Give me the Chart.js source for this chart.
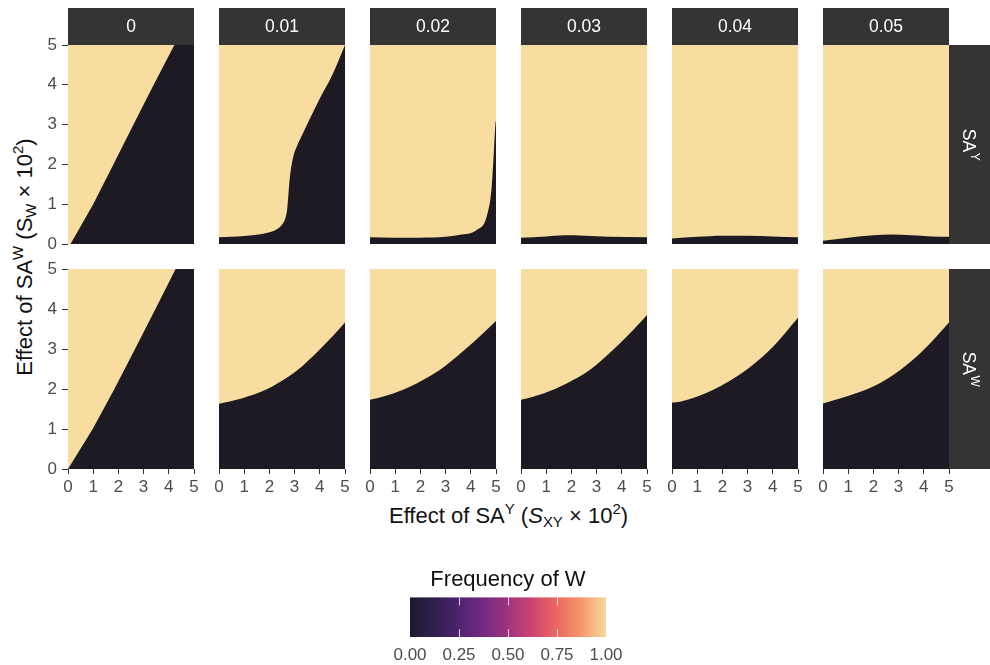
<!DOCTYPE html>
<html>
<head>
<meta charset="utf-8">
<script src="https://cdn.jsdelivr.net/npm/chart.js@4.4.1/dist/chart.umd.min.js"></script>
<style>
  html, body { margin: 0; padding: 0; background: #ffffff; }
  #fig { position: relative; width: 990px; height: 665px; overflow: hidden;
         font-family: "Liberation Sans", Arial, Helvetica, sans-serif; color: #111; }
  #fig canvas { position: absolute; }
  .title { position: absolute; white-space: nowrap; text-align: center; font-size: 22px; line-height: 22px; color: #111; }
  .title sup { font-size: 0.68em; vertical-align: 0.62em; line-height: 0; }
  .title sub { font-size: 0.68em; vertical-align: -0.25em; line-height: 0; }
  #xtitle { left: 68px; width: 881px; top: 505px; height: 22px; }
  #ytitle { width: 424px; height: 22px; left: -186.6px; top: 246px; transform: rotate(-90deg); }
</style>
</head>
<body>
<div id="fig">
  <div class="title" id="xtitle">Effect of SA<sup>Y</sup> (<i>S</i><sub>XY</sub> × 10<sup>2</sup>)</div>
  <div class="title" id="ytitle">Effect of SA<sup>W</sup> (S<sub>W</sub> × 10<sup>2</sup>)</div>
</div>
<script>
// ---- facets -------------------------------------------------------------
const facetCols = ['0', '0.01', '0.02', '0.03', '0.04', '0.05'];   // column strips
const facetRows = ['Y', 'W'];                                      // SA^Y / SA^W strips
const axisTicks = [0, 1, 2, 3, 4, 5];
const legendTicks = [0, 0.25, 0.5, 0.75, 1];

// ---- boundary between W-fixed (below) and W-lost (above): [S_XY, S_W] ----
// row SA^Y
const SAY_000 = [[0,0],[0.1,0],[1.0,1],[1.8,2],[2.6,3],[3.4,4],[4.22,5],[5,5]];
const SAY_001 = [[0,0.17],[1.0,0.2],[1.85,0.27],[2.3,0.37],[2.52,0.5],[2.63,0.64],[2.7,0.85],[2.75,1.2],[2.8,1.6],[2.87,1.95],[2.97,2.25],[3.1,2.47],[3.3,2.74],[3.57,3.1],[3.97,3.62],[4.5,4.25],[5,5]];
const SAY_002 = [[0,0.17],[1,0.16],[2,0.16],[3,0.18],[3.57,0.23],[4.23,0.35],[4.63,0.69],[4.83,1.44],[4.92,2.36],[4.98,3.03],[5,3.1]];
const SAY_003 = [[0,0.16],[1,0.19],[1.7,0.22],[2.5,0.21],[3.5,0.18],[5,0.17]];
const SAY_004 = [[0,0.14],[1,0.18],[2,0.21],[3,0.21],[4,0.19],[5,0.17]];
const SAY_005 = [[0,0.08],[1,0.16],[2,0.22],[2.7,0.24],[3.5,0.22],[4.3,0.19],[5,0.18]];
// row SA^W
const SAW_000 = [[0,0],[0.98,1],[1.84,2],[2.66,3],[3.47,4],[4.27,5],[5,5]];
const SAW_001 = [[0,1.63],[0.93,1.77],[1.85,1.98],[2.78,2.32],[3.17,2.5],[3.84,2.89],[4.5,3.31],[5,3.66]];
const SAW_002 = [[0,1.73],[0.92,1.89],[1.85,2.14],[2.78,2.48],[3.7,2.95],[4.5,3.4],[5,3.7]];
const SAW_003 = [[0,1.73],[0.89,1.89],[1.81,2.14],[2.74,2.48],[3.66,2.98],[4.46,3.48],[5,3.85]];
const SAW_004 = [[0,1.66],[0.32,1.68],[1.64,1.98],[2.96,2.48],[4.02,3.06],[5,3.78]];
const SAW_005 = [[0,1.64],[0.93,1.81],[1.99,2.06],[3.05,2.47],[3.97,2.96],[5,3.66]];

const boundaries = [
  [SAY_000, SAY_001, SAY_002, SAY_003, SAY_004, SAY_005],
  [SAW_000, SAW_001, SAW_002, SAW_003, SAW_004, SAW_005]
];

// ---- look ---------------------------------------------------------------
const FONT = '"Liberation Sans", Arial, Helvetica, sans-serif';
const DARK = '#1e1a24';
const CREAM = '#f7dea0';
const STRIP = '#343434';
const TICK_TEXT = '#4d4d4d';
const TICK_LINE = '#333333';
const magma = [
  [0.00, '#1d1a2a'], [0.12, '#2f1f4c'], [0.25, '#4f2371'], [0.38, '#762a80'],
  [0.50, '#a0347e'], [0.62, '#cc4371'], [0.75, '#ec6762'], [0.87, '#f5976b'], [1.00, '#f8d99c']
];

// panel grid geometry (px)
const X0 = 68, PITCH = 151, PW = 126;
const ROW_TOP = [45, 269], ROW_H = [199, 200];
const ML = 44, MR = 46, MT = 40, MB = 34;
const STRIP_H = 37, STRIP_W = 46;

const fig = document.getElementById('fig');

const panelBackground = {
  id: 'panelBackground',
  beforeDraw(chart) {
    const { ctx, chartArea: a } = chart;
    ctx.save();
    ctx.fillStyle = CREAM;
    ctx.fillRect(a.left, a.top, a.right - a.left, a.bottom - a.top);
    ctx.restore();
  }
};

const facetStrips = {
  id: 'facetStrips',
  afterDraw(chart, args, opts) {
    const { ctx, chartArea: a } = chart;
    ctx.save();
    if (opts.top) {
      ctx.fillStyle = STRIP;
      ctx.fillRect(a.left, a.top - STRIP_H, a.right - a.left, STRIP_H);
      ctx.fillStyle = '#ffffff';
      ctx.font = '17.5px ' + FONT;
      ctx.textAlign = 'center';
      ctx.textBaseline = 'middle';
      ctx.fillText(opts.top, (a.left + a.right) / 2, a.top - STRIP_H / 2 + 1);
    }
    if (opts.right) {
      ctx.fillStyle = STRIP;
      ctx.fillRect(a.right, a.top, STRIP_W, a.bottom - a.top);
      // "SA" with superscript, reading top to bottom
      ctx.translate(a.right + 20, (a.top + a.bottom) / 2);
      ctx.rotate(Math.PI / 2);
      ctx.fillStyle = '#ffffff';
      ctx.textBaseline = 'alphabetic';
      ctx.textAlign = 'left';
      ctx.font = '17.5px ' + FONT;
      const wBase = ctx.measureText('SA').width;
      ctx.font = '12px ' + FONT;
      const wSup = ctx.measureText(opts.right).width;
      const x0 = -(wBase + wSup) / 2;
      ctx.font = '17.5px ' + FONT;
      ctx.fillText('SA', x0, 6);
      ctx.font = '12px ' + FONT;
      ctx.fillText(opts.right, x0 + wBase + 0.5, -2);
    }
    ctx.restore();
  }
};

function makePanel(r, c) {
  const left = X0 + c * PITCH, top = ROW_TOP[r], ph = ROW_H[r];
  const canvas = document.createElement('canvas');
  canvas.width = PW + ML + MR;
  canvas.height = ph + MT + MB;
  canvas.style.left = (left - ML) + 'px';
  canvas.style.top = (top - MT) + 'px';
  fig.appendChild(canvas);

  const showY = c === 0, showX = r === ROW_TOP.length - 1;
  const tickFont = { family: FONT, size: 17 };
  // the zero-selection column has a straight edge; the others are smooth curves
  const straight = c === 0;

  new Chart(canvas, {
    type: 'line',
    data: {
      datasets: [{
        data: boundaries[r][c].map(([x, y]) => ({ x, y })),
        fill: 'start',
        backgroundColor: DARK,
        borderWidth: 0,
        pointRadius: 0,
        tension: 0,
        cubicInterpolationMode: straight ? 'default' : 'monotone'
      }]
    },
    options: {
      responsive: false,
      animation: false,
      events: [],
      layout: { padding: { left: showY ? 0 : ML, right: MR, top: MT, bottom: showX ? 0 : MB } },
      plugins: {
        legend: { display: false },
        tooltip: { enabled: false },
        facetStrips: {
          top: r === 0 ? facetCols[c] : null,
          right: c === facetCols.length - 1 ? facetRows[r] : null
        }
      },
      scales: {
        x: {
          type: 'linear', min: 0, max: 5, display: showX,
          afterBuildTicks(s) { s.ticks = axisTicks.map(v => ({ value: v })); },
          ticks: { font: tickFont, color: TICK_TEXT, padding: 3, autoSkip: false, maxRotation: 0 },
          grid: { drawOnChartArea: false, drawTicks: true, tickLength: 5, color: TICK_LINE, lineWidth: 1 },
          border: { display: false },
          afterFit(s) {
            if (showX) s.height = MB;
            s.paddingLeft = 0; s.paddingRight = 0; s.paddingTop = 0; s.paddingBottom = 0;
          }
        },
        y: {
          type: 'linear', min: 0, max: 5, display: showY,
          afterBuildTicks(s) { s.ticks = axisTicks.map(v => ({ value: v })); },
          ticks: { font: tickFont, color: TICK_TEXT, padding: 5, autoSkip: false },
          grid: { drawOnChartArea: false, drawTicks: true, tickLength: 6, color: TICK_LINE, lineWidth: 1 },
          border: { display: false },
          afterFit(s) {
            if (showY) s.width = ML;
            s.paddingLeft = 0; s.paddingRight = 0; s.paddingTop = 0; s.paddingBottom = 0;
          }
        }
      }
    },
    plugins: [panelBackground, facetStrips]
  });
}

for (let r = 0; r < facetRows.length; r++)
  for (let c = 0; c < facetCols.length; c++) makePanel(r, c);

// ---- colour bar legend --------------------------------------------------
const colourBar = {
  id: 'colourBar',
  beforeDatasetsDraw(chart) {
    const { ctx, chartArea: a, scales: { x } } = chart;
    const g = ctx.createLinearGradient(a.left, 0, a.right, 0);
    magma.forEach(([p, col]) => g.addColorStop(p, col));
    ctx.save();
    ctx.fillStyle = g;
    ctx.fillRect(a.left, a.top, a.right - a.left, a.bottom - a.top);
    // white tick marks inside the bar (interior breaks only)
    ctx.strokeStyle = 'rgba(255,255,255,0.8)';
    ctx.lineWidth = 1;
    const tl = (a.bottom - a.top) / 5;
    legendTicks.slice(1, -1).forEach(v => {
      const px = Math.round(x.getPixelForValue(v)) + 0.5;
      ctx.beginPath();
      ctx.moveTo(px, a.top); ctx.lineTo(px, a.top + tl);
      ctx.moveTo(px, a.bottom); ctx.lineTo(px, a.bottom - tl);
      ctx.stroke();
    });
    ctx.restore();
  }
};

(function makeLegend() {
  const canvas = document.createElement('canvas');
  canvas.width = 276; canvas.height = 110;
  canvas.style.left = '370px'; canvas.style.top = '555px';
  fig.appendChild(canvas);
  new Chart(canvas, {
    type: 'line',
    data: { datasets: [] },
    options: {
      responsive: false, animation: false, events: [],
      layout: { padding: { left: 40, right: 40, top: 0, bottom: 0 } },
      plugins: {
        legend: { display: false },
        tooltip: { enabled: false },
        title: { display: true, text: 'Frequency of W', color: '#111',
                 font: { family: FONT, size: 22, weight: 'normal' }, padding: { top: 12, bottom: 4 } }
      },
      scales: {
        x: {
          type: 'linear', min: 0, max: 1,
          afterBuildTicks(s) { s.ticks = legendTicks.map(v => ({ value: v })); },
          ticks: { font: { family: FONT, size: 17 }, color: TICK_TEXT, padding: 8,
                   autoSkip: false, maxRotation: 0, callback: v => Number(v).toFixed(2) },
          grid: { display: false, drawTicks: false },
          border: { display: false },
          afterFit(s) { s.height = 28; s.paddingLeft = 0; s.paddingRight = 0; }
        },
        y: { display: false, min: 0, max: 1 }
      }
    },
    plugins: [colourBar]
  });
})();
</script>
</body>
</html>
